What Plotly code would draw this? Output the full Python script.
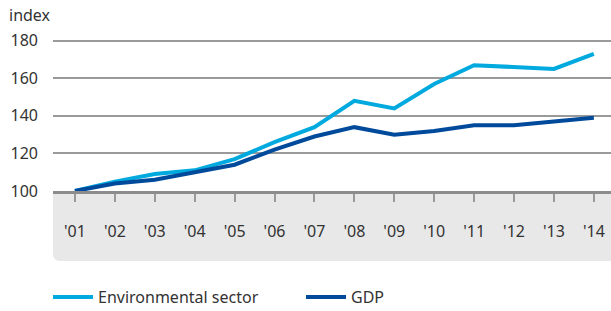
import plotly.graph_objects as go

years = ["'01", "'02", "'03", "'04", "'05", "'06", "'07", "'08", "'09", "'10", "'11", "'12", "'13", "'14"]
environmental = [100, 105, 109, 111, 117, 126, 134, 148, 144, 157, 167, 166, 165, 173]
gdp = [100, 104, 106, 110, 114, 122, 129, 134, 130, 132, 135, 135, 137, 139]
y_ticks = [100, 120, 140, 160, 180]

LIGHT = "#00a9de"
DARK = "#004a9b"
FONT = "Noto Sans"

fig = go.Figure()
fig.add_trace(go.Scatter(x=list(range(len(years))), y=environmental, mode="lines",
                         name="Environmental sector", line=dict(color=LIGHT, width=4)))
fig.add_trace(go.Scatter(x=list(range(len(years))), y=gdp, mode="lines",
                         name="GDP", line=dict(color=DARK, width=4)))

W, H = 611, 311
l, r, t, b = 53, 0, 22, 120
pw = W - l - r
ph = H - t - b
band = 70 / ph
rx = 7 / pw
ry = 7 / ph
path = (f"M 0,0 L 1,0 L 1,{-band} L {rx},{-band} "
        f"Q 0,{-band} 0,{-band + ry} Z")
fig.add_shape(type="path", xref="paper", yref="paper", path=path,
              fillcolor="#e8e8e8", line=dict(width=0), layer="below")

fig.add_annotation(text="index", xref="paper", yref="paper", x=-l / pw + 7 / pw,
                   y=1 + 7 / ph, xanchor="left", yanchor="middle", showarrow=False,
                   font=dict(family=FONT, size=16, color="#333"))

fig.update_layout(
    width=W, height=H,
    margin=dict(l=l, r=r, t=t, b=b, autoexpand=False),
    plot_bgcolor="white", paper_bgcolor="white",
    font=dict(family=FONT, size=15, color="#333"),
    showlegend=True,
    legend=dict(orientation="h", xref="container", yref="container",
                x=(53 - 5) / W, y=1 - 280 / H, xanchor="left", yanchor="top",
                font=dict(family=FONT, size=16, color="#333"),
                entrywidth=198, entrywidthmode="pixels", itemwidth=40,
                bgcolor="rgba(0,0,0,0)"),
    xaxis=dict(range=[-0.55, 13.43], tickmode="array",
               tickvals=list(range(len(years))), ticktext=years,
               showgrid=False, zeroline=False, showline=True, automargin=False,
               linecolor="#8c8c8c", linewidth=3,
               ticks="outside", ticklen=8, tickwidth=1.5, tickcolor="#999",
               ticklabelstandoff=16, tickfont=dict(size=16, color="#333")),
    yaxis=dict(range=[100, 190], tickvals=y_ticks, showgrid=True, automargin=False,
               gridcolor="#9a9a9a", gridwidth=1.5, zeroline=False, showline=False,
               ticks="", ticklabelstandoff=14, tickfont=dict(size=16, color="#333")),
)

fig.write_html("out.html", config={"displayModeBar": False},
               post_script="document.body.style.margin='0';document.body.style.overflow='hidden';")
